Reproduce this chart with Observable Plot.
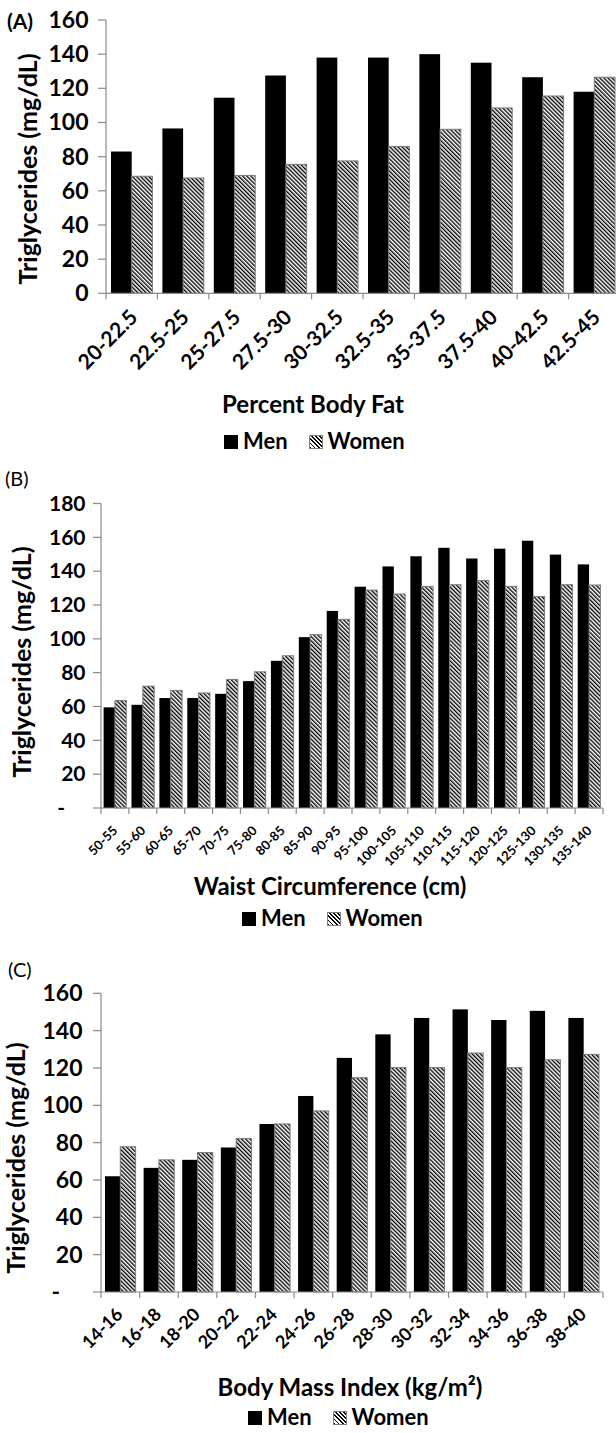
<!DOCTYPE html>
<html>
<head>
<meta charset="utf-8">
<script src="https://cdn.jsdelivr.net/npm/d3@7"></script>
<script src="https://cdn.jsdelivr.net/npm/@observablehq/plot@0.6"></script>
<style>
  html, body { margin: 0; padding: 0; background: #fff; }
  #root { position: relative; width: 616px; height: 1433px; overflow: hidden; background: #fff; font-family: Lato, "Open Sans", sans-serif; color: #000; }
  .abs { position: absolute; white-space: nowrap; line-height: 1; }
  .b { font-weight: bold; }
  .ytitle { transform: translate(-50%, -50%) rotate(-90deg); font-weight: bold; font-size: 25px; }
  .xtitle { transform: translateX(-50%); font-weight: bold; }
  .legend { display: flex; align-items: baseline; font-weight: bold; font-size: 22px; }
  .sq { display: inline-block; width: 14px; height: 14px; margin-right: 5px; box-sizing: border-box; }
  .sq.men { background: #000; }
  .sq.women { border: 1px solid #808080; background: repeating-linear-gradient(45deg, #000 0 1.3px, #fff 1.3px 2.9px); margin-left: 21px; }
</style>
</head>
<body>
<div id="root"></div>
<script>
// ---------- Data ----------
const seriesNames = ["Men", "Women"];

const fatCats = ["20-22.5","22.5-25","25-27.5","27.5-30","30-32.5","32.5-35","35-37.5","37.5-40","40-42.5","42.5-45"];
const fatMen = [83, 96.5, 114.5, 127.5, 138, 138, 140, 135, 126.5, 118];
const fatWomen = [68.5, 67.5, 69, 75.5, 77.5, 86, 96, 108.5, 115.5, 126.5];
const fatTicks = [0, 20, 40, 60, 80, 100, 120, 140, 160];
const fatTickLabels = ["0", "20", "40", "60", "80", "100", "120", "140", "160"];

const waistCats = ["50-55","55-60","60-65","65-70","70-75","75-80","80-85","85-90","90-95","95-100","100-105","105-110","110-115","115-120","120-125","125-130","130-135","135-140"];
const waistMen = [59.5, 61, 65, 65, 67.5, 75, 87, 101, 116.5, 130.8, 142.8, 148.8, 153.8, 147.5, 153.3, 158, 149.8, 144];
const waistWomen = [63.5, 72, 69.5, 68, 76, 80.5, 90, 102.5, 111.5, 128.8, 126.5, 131, 132, 134.5, 131, 125, 132, 131.8];
const waistTicks = [0, 20, 40, 60, 80, 100, 120, 140, 160, 180];
const waistTickLabels = ["-\u00a0\u00a0\u00a0\u00a0", "20", "40", "60", "80", "100", "120", "140", "160", "180"];

const bmiCats = ["14-16","16-18","18-20","20-22","22-24","24-26","26-28","28-30","30-32","32-34","34-36","36-38","38-40"];
const bmiMen = [62, 66.5, 70.8, 77.4, 90, 105, 125.4, 138, 146.8, 151.4, 145.7, 150.6, 146.8];
const bmiWomen = [77.8, 70.8, 74.7, 82.2, 90, 97, 114.8, 120.2, 120.2, 128, 120.2, 124.4, 127.3];
const bmiTicks = [0, 20, 40, 60, 80, 100, 120, 140, 160];
const bmiTickLabels = ["-\u00a0\u00a0\u00a0\u00a0", "20", "40", "60", "80", "100", "120", "140", "160"];

const panelLetters = ["(A)", "(B)", "(C)"];
const yTitle = "Triglycerides (mg/dL)";
const xTitles = ["Percent Body Fat", "Waist Circumference (cm)", "Body Mass Index (kg/m\u00b2)"];

// ---------- Helpers ----------
const root = document.getElementById("root");

function axesMark(id, cats, ticks, yMax, tickLen, xTickLen) {
  return (index, scales) => {
    const {x, y} = scales;
    const bw = x.bandwidth();
    const g = d3.create("svg:g").attr("stroke", "#8a8a8a").attr("stroke-width", 1.2).attr("fill", "none");
    const defs = g.append("defs");
    const p = defs.append("pattern").attr("id", id).attr("patternUnits", "userSpaceOnUse")
      .attr("width", 2.9).attr("height", 8).attr("patternTransform", "rotate(-45)");
    p.append("rect").attr("width", 2.9).attr("height", 8).attr("fill", "#fff").attr("stroke", "none");
    p.append("rect").attr("width", 1.35).attr("height", 8).attr("fill", "#000").attr("stroke", "none");
    const x0 = x(cats[0]);
    const x1 = x(cats[cats.length - 1]) + bw;
    const y0 = y(0), yT = y(yMax);
    g.append("line").attr("x1", x0).attr("x2", x0).attr("y1", y0).attr("y2", yT);
    for (const t of ticks) {
      g.append("line").attr("x1", x0 - tickLen).attr("x2", x0).attr("y1", y(t)).attr("y2", y(t));
    }
    g.append("line").attr("x1", x0).attr("x2", x1).attr("y1", y0).attr("y2", y0);
    for (const c of cats) {
      g.append("line").attr("x1", x(c)).attr("x2", x(c)).attr("y1", y0).attr("y2", y0 + xTickLen);
    }
    g.append("line").attr("x1", x1).attr("x2", x1).attr("y1", y0).attr("y2", y0 + xTickLen);
    return g.node();
  };
}

function panel(cfg) {
  const {cats, men, women, ticks, tickLabels, yMax, id, top, height, mTop, mBottom, xStart, xEnd,
         outer, yFont, yDx, xFont, xDx, xDy} = cfg;
  const rows = cats.flatMap((c, i) => [
    {cat: c, sex: seriesNames[0], v: men[i]},
    {cat: c, sex: seriesNames[1], v: women[i]}
  ]);
  const bw = (xEnd - xStart) / cats.length;
  const chart = Plot.plot({
    width: 616,
    height,
    marginTop: mTop,
    marginBottom: mBottom,
    marginLeft: xStart,
    marginRight: Math.max(0, 616 - xEnd),
    x: {type: "band", domain: cats, range: [xStart, xEnd], padding: 0, round: false, axis: null},
    y: {domain: [0, yMax], axis: null},
    style: {fontFamily: "Lato, 'Open Sans', sans-serif", fontWeight: "bold", color: "#000", background: "transparent", overflow: "visible"},
    marks: [
      Plot.barY(rows.filter(d => d.sex === seriesNames[0]), {
        x: "cat", y: "v", fill: "#000", insetLeft: outer, insetRight: bw / 2
      }),
      Plot.barY(rows.filter(d => d.sex === seriesNames[1]), {
        x: "cat", y: "v", fill: `url(#${id})`, stroke: "#7a7a7a", strokeWidth: 1,
        insetLeft: bw / 2, insetRight: outer
      }),
      Plot.text(cats, {
        x: d => d, y: 0, text: d => d, rotate: -45, textAnchor: "end",
        dx: xDx, dy: xDy, fontSize: xFont, fontWeight: "bold", fill: "#000"
      }),
      Plot.text(ticks, {
        y: d => d, text: (d, i) => tickLabels[i], frameAnchor: "left", textAnchor: "end",
        dx: yDx, fontSize: yFont, fontWeight: "bold", fill: "#000"
      }),
      axesMark(id, cats, ticks, yMax, 8, 6)
    ]
  });
  const holder = document.createElement("div");
  holder.className = "abs";
  holder.style.left = "0px";
  holder.style.top = top + "px";
  holder.appendChild(chart);
  root.appendChild(holder);
}

function addText(html, cls, left, top, extra = {}) {
  const d = document.createElement("div");
  d.className = "abs " + cls;
  d.style.left = left + "px";
  d.style.top = top + "px";
  Object.assign(d.style, extra);
  d.innerHTML = html;
  root.appendChild(d);
  return d;
}

function addLegend(left, baseline, fs) {
  return addText(
    `<span class="sq men"></span><span>${seriesNames[0]}</span><span class="sq women"></span><span>${seriesNames[1]}</span>`,
    "legend", left, baseline - 0.887 * fs, {fontSize: fs + "px"});
}

// ---------- Panel A ----------
panel({
  cats: fatCats, men: fatMen, women: fatWomen, ticks: fatTicks, tickLabels: fatTickLabels, yMax: 160,
  id: "hatchA", top: 0, height: 385, mTop: 20, mBottom: 385 - 293.3, xStart: 106, xEnd: 620,
  outer: 5, yFont: 23, yDx: -18, xFont: 21, xDx: 2, xDy: 20
});
addText(panelLetters[0], "b", 7, 28.5 - 0.887 * 21, {fontSize: "21px"});
addText(yTitle, "ytitle", 27, 169);
addText(xTitles[0], "xtitle", 313, 413 - 0.887 * 24, {fontSize: "24px"});
addLegend(224, 450, 22);

// ---------- Panel B ----------
panel({
  cats: waistCats, men: waistMen, women: waistWomen, ticks: waistTicks, tickLabels: waistTickLabels, yMax: 180,
  id: "hatchB", top: 470, height: 405, mTop: 33.5, mBottom: 405 - (808 - 470), xStart: 101, xEnd: 603,
  outer: 2.6, yFont: 21, yDx: -16, xFont: 13, xDx: 0, xDy: 20
});
addText(panelLetters[1], "", 5, 486 - 0.887 * 20, {fontSize: "20px"});
addText(yTitle, "ytitle", 21, 662);
addText(xTitles[1], "xtitle", 330, 895 - 0.887 * 24, {fontSize: "24px"});
addLegend(242, 927, 22);

// ---------- Panel C ----------
panel({
  cats: bmiCats, men: bmiMen, women: bmiWomen, ticks: bmiTicks, tickLabels: bmiTickLabels, yMax: 160,
  id: "hatchC", top: 960, height: 405, mTop: 33.3, mBottom: 405 - (1292 - 960), xStart: 101, xEnd: 603,
  outer: 4, yFont: 23, yDx: -19, xFont: 18, xDx: -1, xDy: 19
});
addText(panelLetters[2], "", 8, 977 - 0.887 * 20, {fontSize: "20px"});
addText(yTitle, "ytitle", 15, 1158);
addText(xTitles[2], "xtitle", 350, 1396 - 0.887 * 24, {fontSize: "24px"});
addLegend(248, 1426, 22);
</script>
</body>
</html>
